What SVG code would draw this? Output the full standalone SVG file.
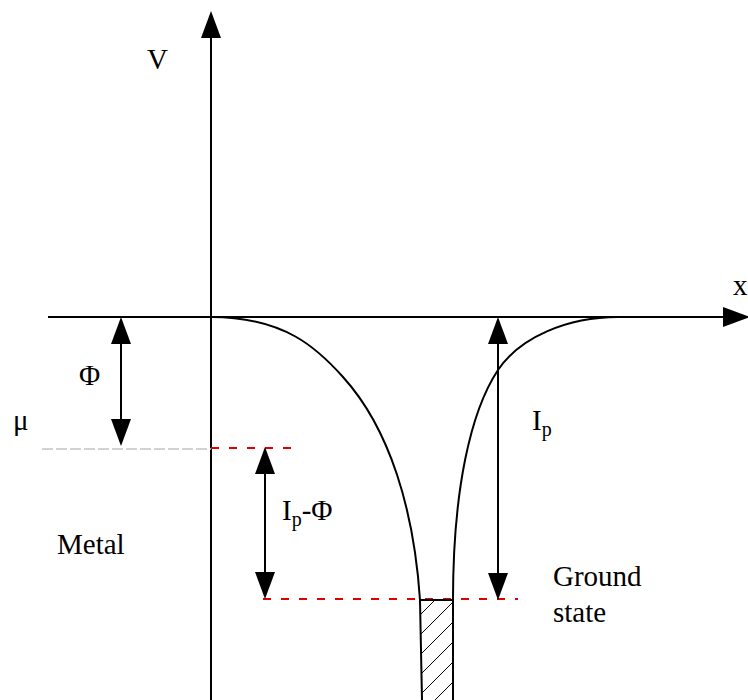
<svg xmlns="http://www.w3.org/2000/svg" width="748" height="700" viewBox="0 0 748 700">
<style>
.ax{stroke:#000;stroke-width:2;fill:none}
.arr{stroke:#000;stroke-width:2;fill:none;marker-start:url(#ah);marker-end:url(#ah)}
.crv{stroke:#000;stroke-width:2;fill:none}
.red{stroke:#e00000;stroke-width:2;stroke-dasharray:8 10;fill:none}
.gray{stroke:#c4c4c4;stroke-width:1.5;stroke-dasharray:11 3;fill:none}
.hatch{stroke:#000;stroke-width:1;fill:none}
.lbl{font-family:'Liberation Serif','Times New Roman',serif;font-size:29px;fill:#000}
.sub{font-size:20px}
</style>
<defs>
<marker id="ah" viewBox="0 0 27 20" refX="20" refY="10" markerWidth="27" markerHeight="20" markerUnits="userSpaceOnUse" orient="auto-start-reverse">
<path d="M0,0 L27,10 L0,20 z" fill="#000"/>
</marker>
<marker id="ahEnd" viewBox="0 0 27 20" refX="20" refY="10" markerWidth="27" markerHeight="20" markerUnits="userSpaceOnUse" orient="auto">
<path d="M0,0 L27,10 L0,20 z" fill="#000"/>
</marker>
<clipPath id="well">
<polygon points="420,600 453,600 453,700 422,700"/>
</clipPath>
</defs>

<g id="axes">
<line class="ax" x1="211" y1="700" x2="211" y2="18" marker-end="url(#ahEnd)"/>
<line class="ax" x1="48" y1="317" x2="743" y2="317" marker-end="url(#ahEnd)"/>
</g>

<g id="levels">
<line class="gray" x1="42" y1="449" x2="211" y2="449"/>
<line class="red" x1="211" y1="448" x2="293" y2="448"/>
<line class="red" x1="263" y1="599" x2="518" y2="599"/>
</g>

<g id="potential">
<path class="crv" d="M211,317 C285,317 318,349 343,377 C390,429 414,510 420,600 L422,700"/>
<path class="crv" d="M453,700 L453,600 C453,490 470.5,411.5 498,370 C520,337 568,317 618,317"/>
<line class="crv" x1="420" y1="600" x2="453" y2="600"/>
<g clip-path="url(#well)">
<line class="hatch" x1="400" y1="635" x2="475" y2="560"/>
<line class="hatch" x1="400" y1="655" x2="475" y2="580"/>
<line class="hatch" x1="400" y1="675" x2="475" y2="600"/>
<line class="hatch" x1="400" y1="695" x2="475" y2="620"/>
<line class="hatch" x1="400" y1="715" x2="475" y2="640"/>
<line class="hatch" x1="400" y1="735" x2="475" y2="660"/>
<line class="hatch" x1="400" y1="755" x2="475" y2="680"/>
</g>
</g>

<g id="connectors">
<line class="arr" x1="121" y1="324" x2="121" y2="439"/>
<line class="arr" x1="265" y1="454" x2="265" y2="592"/>
<line class="arr" x1="498" y1="324" x2="498" y2="593"/>
</g>

<g id="labels" font-family="Liberation Serif, Times New Roman, serif" font-size="29">
<text class="lbl" x="147" y="69">V</text>
<text class="lbl" x="733" y="295">x</text>
<text class="lbl" x="79" y="385">Φ</text>
<text class="lbl" x="13" y="430">μ</text>
<text class="lbl" x="282" y="520">I<tspan class="sub" dy="6">p</tspan><tspan dy="-6">-Φ</tspan></text>
<text class="lbl" x="532" y="430">I<tspan class="sub" dy="6">p</tspan></text>
<text class="lbl" x="57" y="554">Metal</text>
<text class="lbl" x="553" y="586">Ground</text>
<text class="lbl" x="553" y="622">state</text>
</g>
</svg>
